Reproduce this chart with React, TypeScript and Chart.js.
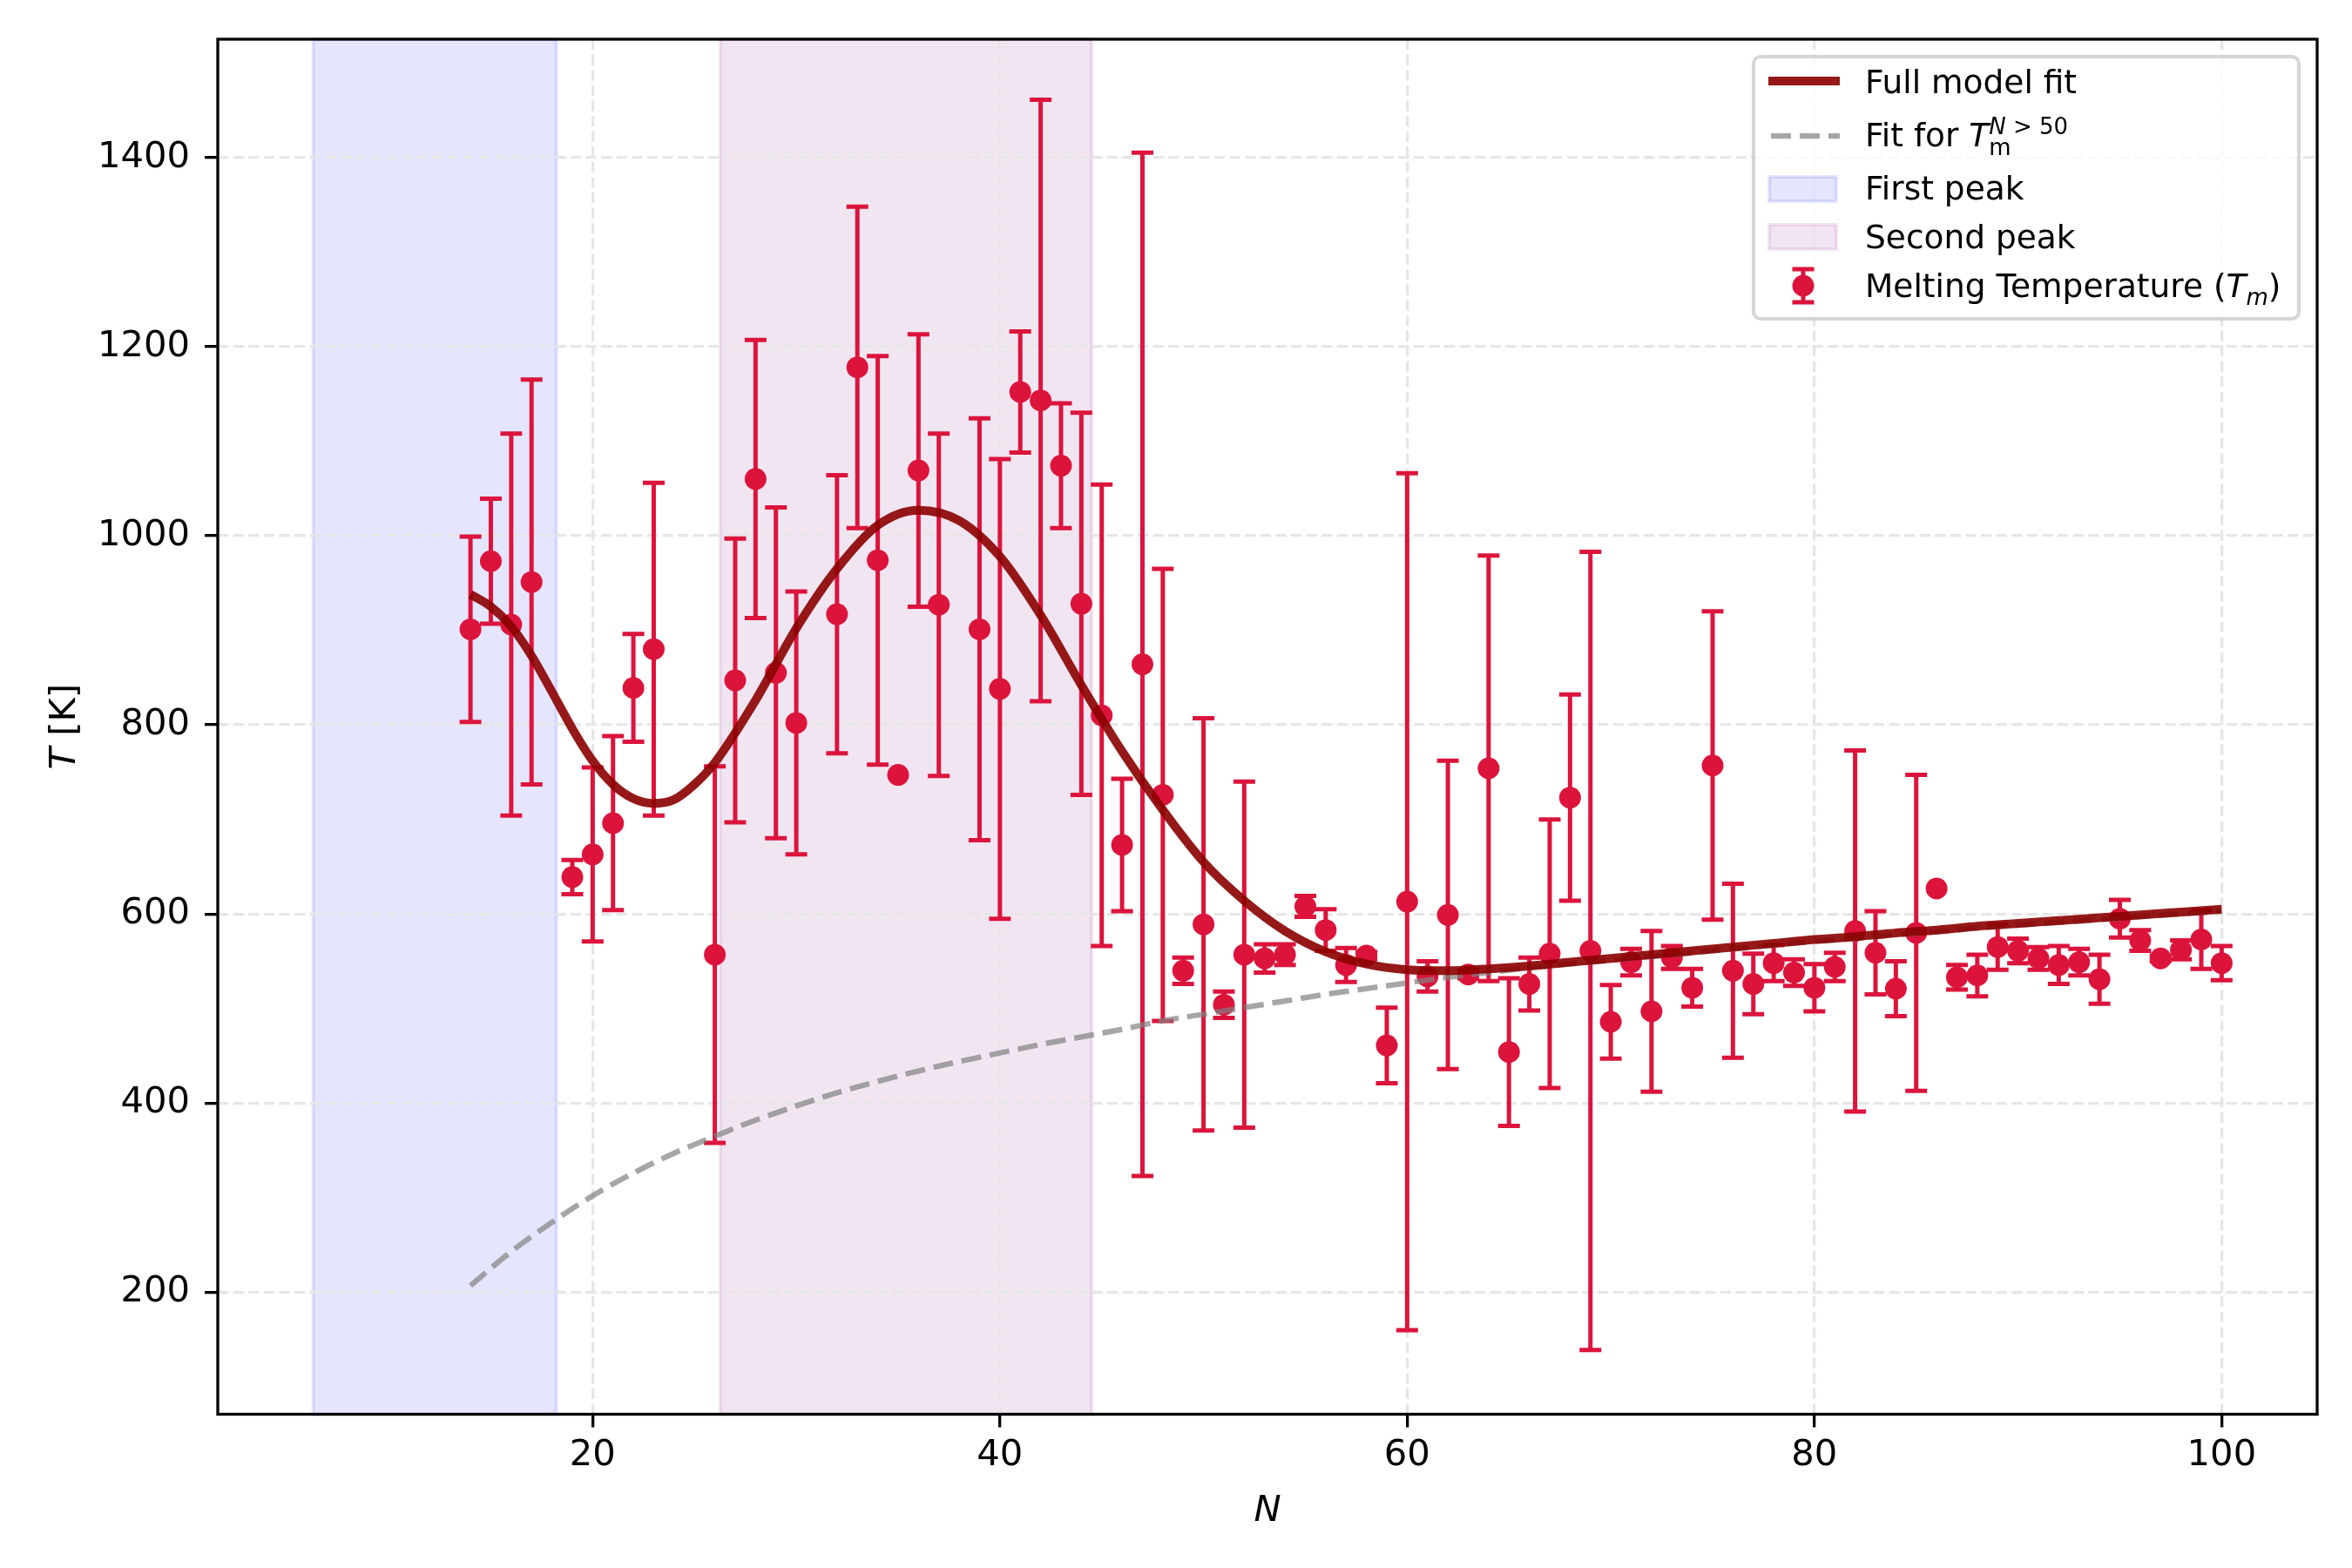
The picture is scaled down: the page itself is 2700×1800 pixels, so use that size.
import React, { useEffect, useRef } from "react";
import { Chart, registerables } from "chart.js";

Chart.register(...registerables);

// measured melting temperatures with symmetric error bars
const nValues = [14, 15, 16, 17, 19, 20, 21, 22, 23, 26, 27, 28, 29, 30, 32, 33, 34, 35, 36, 37, 39, 40, 41, 42, 43, 44, 45, 46, 47, 48, 49, 50, 51, 52, 53, 54, 55, 56, 57, 58, 59, 60, 61, 62, 63, 64, 65, 66, 67, 68, 69, 70, 71, 72, 73, 74, 75, 76, 77, 78, 79, 80, 81, 82, 83, 84, 85, 86, 87, 88, 89, 90, 91, 92, 93, 94, 95, 96, 97, 98, 99, 100];
const tValues = [901, 973, 906, 951, 639, 663, 696, 839, 880, 557, 847, 1060, 855, 802, 917, 1178, 974, 747, 1069, 927, 901, 838, 1152, 1143, 1074, 928, 810, 673, 864, 726, 540, 589, 504, 557, 553, 557, 608, 583, 546, 556, 461, 613, 534, 599, 536, 754, 454, 526, 558, 723, 561, 486, 549, 497, 554, 522, 757, 540, 526, 548, 538, 522, 544, 582, 559, 521, 580, 627, 533, 535, 565, 561, 553, 546, 549, 531, 595, 572, 553, 562, 573, 548];
const tErrors = [98, 66, 202, 214, 18, 92, 92, 57, 176, 199, 150, 147, 175, 139, 147, 170, 216, 0, 144, 181, 223, 243, 64, 318, 66, 202, 244, 70, 541, 239, 14, 218, 14, 183, 15, 11, 11, 22, 18, 4, 40, 453, 16, 163, 4, 225, 78, 28, 142, 109, 422, 39, 14, 85, 12, 20, 163, 92, 32, 19, 14, 25, 15, 191, 44, 29, 167, 0, 13, 22, 24, 13, 12, 20, 14, 26, 20, 11, 3, 10, 31, 18];

// full model fit curve
const fitN = [14, 15, 16, 17, 18, 19, 20, 21, 22, 23, 24, 25, 26, 28, 30, 32, 34, 36, 38, 40, 42, 44, 46, 48, 50, 52, 54, 56, 58, 60, 62, 64, 66, 68, 70, 72, 74, 76, 78, 80, 82, 84, 86, 88, 90, 92, 94, 96, 98, 100];
const fitT = [938, 925, 904, 873, 835, 796, 762, 737, 722, 717, 721, 737, 760, 826, 902, 965, 1011, 1027, 1016, 978, 916, 842, 772, 710, 655, 614, 582, 560, 547, 541, 540, 542, 545, 549, 553, 557, 561, 565, 569, 573, 576, 580, 583, 587, 590, 593, 596, 599, 602, 605];

// fit for N > 50
const bulkN = [14, 16, 18, 20, 22, 24, 26, 28, 30, 32, 34, 36, 38, 40, 42, 44, 46, 48, 50, 52, 54, 56, 58, 60, 62, 64, 66, 68, 70, 72, 74, 76, 78, 80, 82, 84, 86, 88, 90, 92, 94, 96, 98, 100];
const bulkT = [207, 243, 274, 302, 326, 347, 365, 382, 397, 411, 423, 434, 444, 453, 462, 470, 478, 487, 494, 501, 508, 515, 521, 527, 533, 538, 543, 547, 551, 555, 559, 563, 567, 571, 574, 578, 581, 585, 588, 591, 594, 597, 600, 603];

const firstPeak = [6.28, 18.22];
const secondPeak = [26.27, 44.51];

const xTicks = [20, 40, 60, 80, 100];
const yTicks = [200, 400, 600, 800, 1000, 1200, 1400];

const CRIMSON = "#DC143C";
const FIT_COLOR = "rgba(139, 0, 0, 0.9)";
const BULK_COLOR = "rgba(128, 128, 128, 0.7)";
const BLUE_SPAN = "rgba(0, 0, 255, 0.1)";
const PURPLE_SPAN = "rgba(128, 0, 128, 0.1)";
const FONT = '"DejaVu Sans"';

const spanPlugin = {
  id: "peakSpans",
  beforeDraw(chart: any) {
    const { ctx, chartArea, scales } = chart;
    const x = scales.x;
    ctx.save();
    [[firstPeak, BLUE_SPAN], [secondPeak, PURPLE_SPAN]].forEach(([range, color]: any) => {
      const x0 = x.getPixelForValue(range[0]);
      const x1 = x.getPixelForValue(range[1]);
      ctx.fillStyle = color;
      ctx.fillRect(x0, chartArea.top, x1 - x0, chartArea.bottom - chartArea.top);
      ctx.strokeStyle = color;
      ctx.lineWidth = 4;
      ctx.strokeRect(x0, chartArea.top, x1 - x0, chartArea.bottom - chartArea.top);
    });
    ctx.restore();
  },
};

const errorBarPlugin = {
  id: "errorBars",
  beforeDatasetsDraw(chart: any) {
    const { ctx, scales } = chart;
    const { x, y } = scales;
    ctx.save();
    ctx.strokeStyle = CRIMSON;
    ctx.lineWidth = 5;
    nValues.forEach((n, i) => {
      const e = tErrors[i];
      if (!e) return;
      const px = x.getPixelForValue(n);
      const top = y.getPixelForValue(tValues[i] + e);
      const bot = y.getPixelForValue(tValues[i] - e);
      ctx.beginPath();
      ctx.moveTo(px, top);
      ctx.lineTo(px, bot);
      ctx.moveTo(px - 12.5, top);
      ctx.lineTo(px + 12.5, top);
      ctx.moveTo(px - 12.5, bot);
      ctx.lineTo(px + 12.5, bot);
      ctx.stroke();
    });
    ctx.restore();
  },
};

// draws runs of [text, font, dy] left to right
function drawRuns(ctx: CanvasRenderingContext2D, x: number, y: number, runs: [string, string, number][]) {
  let cx = x;
  runs.forEach(([text, font, dy]) => {
    ctx.font = font;
    ctx.fillText(text, cx, y + dy);
    cx += ctx.measureText(text).width;
  });
  return cx;
}

function drawLegend(ctx: CanvasRenderingContext2D) {
  const fs = 37.5;
  const small = 26;
  const reg = `${fs}px ${FONT}`;
  const ita = `italic ${fs}px ${FONT}`;
  const regS = `${small}px ${FONT}`;
  const itaS = `italic ${small}px ${FONT}`;
  const left = 2013, top = 65, right = 2639, bottom = 366;

  ctx.save();
  ctx.beginPath();
  ctx.roundRect(left, top, right - left, bottom - top, 8);
  ctx.fillStyle = "rgba(255,255,255,0.8)";
  ctx.fill();
  ctx.strokeStyle = "rgba(204,204,204,0.8)";
  ctx.lineWidth = 4;
  ctx.stroke();

  const hx0 = 2030, hx1 = 2112, tx = 2141;

  // full model fit
  ctx.beginPath();
  ctx.strokeStyle = FIT_COLOR;
  ctx.lineWidth = 10;
  ctx.moveTo(hx0, 93);
  ctx.lineTo(hx1, 93);
  ctx.stroke();

  // bulk fit
  ctx.beginPath();
  ctx.strokeStyle = BULK_COLOR;
  ctx.lineWidth = 6.25;
  ctx.setLineDash([23, 10]);
  ctx.moveTo(hx0 + 3, 156);
  ctx.lineTo(hx1, 156);
  ctx.stroke();
  ctx.setLineDash([]);

  // peaks
  [[BLUE_SPAN, 203], [PURPLE_SPAN, 258]].forEach(([color, y]: any) => {
    ctx.fillStyle = color;
    ctx.fillRect(hx0 + 1, y, hx1 - hx0 - 5, 28);
    ctx.strokeStyle = color;
    ctx.lineWidth = 4;
    ctx.strokeRect(hx0 + 1, y, hx1 - hx0 - 5, 28);
  });

  // error bar marker
  const ex = 2070;
  ctx.strokeStyle = CRIMSON;
  ctx.lineWidth = 5;
  ctx.beginPath();
  ctx.moveTo(ex, 309);
  ctx.lineTo(ex, 347);
  ctx.moveTo(ex - 12.5, 309);
  ctx.lineTo(ex + 12.5, 309);
  ctx.moveTo(ex - 12.5, 347);
  ctx.lineTo(ex + 12.5, 347);
  ctx.stroke();
  ctx.beginPath();
  ctx.arc(ex, 328, 12.5, 0, Math.PI * 2);
  ctx.fillStyle = CRIMSON;
  ctx.fill();

  ctx.fillStyle = "#000";
  ctx.textBaseline = "alphabetic";
  ctx.textAlign = "left";
  drawRuns(ctx, tx, 107, [["Full model fit", reg, 0]]);

  const afterT = drawRuns(ctx, tx, 168, [["Fit for ", reg, 0], ["T", ita, 0]]);
  ctx.font = regS;
  ctx.fillText("m", afterT, 178);
  drawRuns(ctx, afterT, 154, [["N", itaS, 0], [" > 50", regS, 0]]);

  drawRuns(ctx, tx, 229, [["First peak", reg, 0]]);
  drawRuns(ctx, tx, 285, [["Second peak", reg, 0]]);
  drawRuns(ctx, tx, 341, [
    ["Melting Temperature (", reg, 0],
    ["T", ita, 0],
    ["m", itaS, 9],
    [")", reg, 0],
  ]);
  ctx.restore();
}

const framePlugin = {
  id: "frameAndLabels",
  afterDraw(chart: any) {
    const { ctx, chartArea } = chart;
    ctx.save();
    ctx.strokeStyle = "#000";
    ctx.lineWidth = 3.3;
    ctx.strokeRect(chartArea.left, chartArea.top, chartArea.right - chartArea.left, chartArea.bottom - chartArea.top);

    const fs = 41.7;
    ctx.fillStyle = "#000";
    ctx.textBaseline = "alphabetic";
    // x label
    ctx.font = `italic ${fs}px ${FONT}`;
    ctx.textAlign = "center";
    ctx.fillText("N", (chartArea.left + chartArea.right) / 2, 1746);

    // y label
    ctx.translate(73, (chartArea.top + chartArea.bottom) / 2);
    ctx.rotate(-Math.PI / 2);
    ctx.textAlign = "left";
    ctx.font = `italic ${fs}px ${FONT}`;
    const wT = ctx.measureText("T").width;
    ctx.font = `${fs}px ${FONT}`;
    const wK = ctx.measureText(" [K]").width;
    drawRuns(ctx, -(wT + wK) / 2, 13, [
      ["T", `italic ${fs}px ${FONT}`, 0],
      [" [K]", `${fs}px ${FONT}`, 0],
    ]);
    ctx.restore();

    drawLegend(ctx);
  },
};

const App: React.FC = () => {
  const canvasRef = useRef<HTMLCanvasElement | null>(null);
  const chartRef = useRef<Chart | null>(null);

  useEffect(() => {
    if (!canvasRef.current) return;
    const ctx = canvasRef.current.getContext("2d");
    if (!ctx) return;
    if (chartRef.current) chartRef.current.destroy();

    const gridCommon = {
      color: "#e6e6e6",
      lineWidth: 3.3,
      tickColor: "#000",
      tickWidth: 3.3,
      tickLength: 15,
      tickBorderDash: [],
    };

    chartRef.current = new Chart(ctx, {
      type: "scatter",
      data: {
        datasets: [
          {
            label: "Full model fit",
            data: fitN.map((n, i) => ({ x: n, y: fitT[i] })),
            showLine: true,
            borderColor: FIT_COLOR,
            borderWidth: 10,
            pointRadius: 0,
            cubicInterpolationMode: "monotone",
            order: 1,
          },
          {
            label: "Fit for Tm N>50",
            data: bulkN.map((n, i) => ({ x: n, y: bulkT[i] })),
            showLine: true,
            borderColor: BULK_COLOR,
            borderWidth: 6.25,
            borderDash: [23, 10],
            pointRadius: 0,
            cubicInterpolationMode: "monotone",
            order: 2,
          },
          {
            label: "Melting Temperature (Tm)",
            data: nValues.map((n, i) => ({ x: n, y: tValues[i] })),
            backgroundColor: CRIMSON,
            borderWidth: 0,
            pointRadius: 12.5,
            order: 3,
          },
        ],
      },
      options: {
        animation: false,
        responsive: true,
        maintainAspectRatio: false,
        devicePixelRatio: 1,
        layout: { padding: { left: 0, top: 45, right: 40, bottom: 0 } },
        plugins: {
          legend: { display: false },
          tooltip: { enabled: false },
        },
        scales: {
          x: {
            type: "linear",
            min: 1.59,
            max: 104.69,
            grid: gridCommon,
            border: { display: false, dash: [12.3, 5.3] },
            ticks: {
              color: "#000",
              font: { family: "DejaVu Sans", size: 41.7 },
              padding: 8,
              maxRotation: 0,
              autoSkip: false,
              callback: (v: any) => String(v),
            },
            afterBuildTicks: (scale: any) => {
              scale.ticks = xTicks.map((value) => ({ value }));
            },
            afterFit: (scale: any) => {
              scale.height = 176.5;
            },
          },
          y: {
            type: "linear",
            min: 71,
            max: 1525,
            grid: gridCommon,
            border: { display: false, dash: [12.3, 5.3] },
            ticks: {
              color: "#000",
              font: { family: "DejaVu Sans", size: 41.7 },
              padding: 17,
              autoSkip: false,
              callback: (v: any) => String(v),
            },
            afterBuildTicks: (scale: any) => {
              scale.ticks = yTicks.map((value) => ({ value }));
            },
            afterFit: (scale: any) => {
              scale.width = 250;
            },
          },
        },
      },
      plugins: [spanPlugin, errorBarPlugin, framePlugin],
    } as any);

    return () => {
      if (chartRef.current) {
        chartRef.current.destroy();
        chartRef.current = null;
      }
    };
  }, []);

  return (
    <div style={{ position: "fixed", left: 0, top: 0, width: 2700, height: 1800, background: "#fff" }}>
      <canvas ref={canvasRef}></canvas>
    </div>
  );
};

export default App;
